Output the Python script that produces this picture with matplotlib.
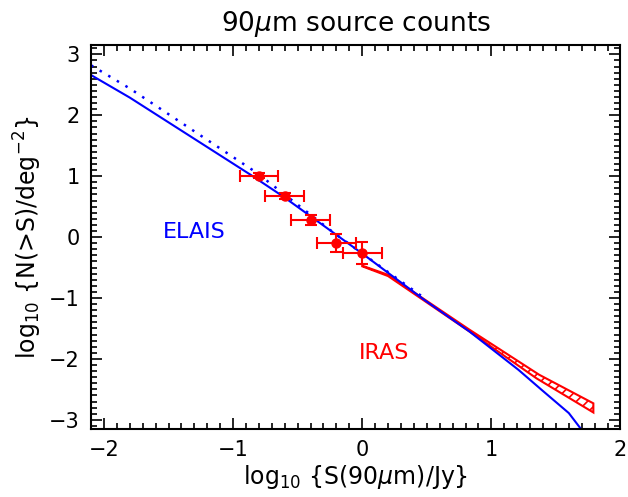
import matplotlib
matplotlib.use("Agg")
import matplotlib.pyplot as plt
from matplotlib.ticker import MultipleLocator

# ELAIS points
elais_x = [-0.8, -0.6, -0.4, -0.2, 0.0]
elais_y = [1.01, 0.67, 0.28, -0.095, -0.26]
elais_xerr = [0.15, 0.15, 0.15, 0.15, 0.15]
elais_yerr = [0.04, 0.05, 0.09, 0.15, 0.18]

# model curves
model_x = [-2.1, -1.8, -0.87, -0.615, -0.255, 0.0, 0.48, 0.83, 1.21, 1.39, 1.60, 1.69]
model_y = [2.66, 2.29, 1.03, 0.67, 0.12, -0.27, -1.03, -1.55, -2.18, -2.51, -2.89, -3.14]
dot_x = [-2.1, -1.8, -0.82, -0.22, 0.21, 0.5]
dot_y = [2.82, 2.44, 1.06, 0.07, -0.59, -1.03]

# IRAS band
iras_x = [0.0, 0.2, 0.83, 1.35, 1.79, 1.79, 1.37, 0.83, 0.2, 0.0]
iras_y = [-0.48, -0.64, -1.55, -2.32, -2.88, -2.73, -2.26, -1.52, -0.62, -0.47]

plt.rcParams['hatch.color'] = 'red'
plt.rcParams['hatch.linewidth'] = 1.2

fig = plt.figure(figsize=(6.28, 4.97), dpi=100)
ax = fig.add_axes([0.145, 0.137, 0.843, 0.772])

ax.fill(iras_x, iras_y, facecolor='none', edgecolor='red', hatch='///', linewidth=1.5)
ax.plot(model_x, model_y, color='blue', linewidth=1.5)
ax.plot(dot_x, dot_y, color='blue', linewidth=1.8, linestyle=(0, (1, 3)))
ax.errorbar(elais_x, elais_y, xerr=elais_xerr, yerr=elais_yerr, fmt='o', color='red',
            ms=6.5, capsize=4, elinewidth=1.5, capthick=1.5)

ax.text(-1.3, 0.09, 'ELAIS', color='blue', fontsize=16, ha='center', va='center')
ax.text(0.17, -1.90, 'IRAS', color='red', fontsize=16, ha='center', va='center')

ax.set_xlim(-2.1, 2.0)
ax.set_ylim(-3.15, 3.15)
ax.xaxis.set_major_locator(MultipleLocator(1))
ax.xaxis.set_minor_locator(MultipleLocator(0.1))
ax.yaxis.set_major_locator(MultipleLocator(1))
ax.yaxis.set_minor_locator(MultipleLocator(0.1))
ax.tick_params(which='both', direction='in', top=True, right=True, labelsize=15, width=1.2)
ax.tick_params(which='major', length=8, pad=8)
ax.tick_params(which='minor', length=4)
for s in ax.spines.values():
    s.set_linewidth(1.5)

ax.set_title(r'90$\mu$m source counts', fontsize=19, pad=10)
ax.set_xlabel(r'log$_{10}$ {S(90$\mu$m)/Jy}', fontsize=17, labelpad=2)
ax.set_ylabel(r'log$_{10}$ {N(>S)/deg$^{-2}$}', fontsize=17, labelpad=4)

fig.savefig('out.png', dpi=100)
